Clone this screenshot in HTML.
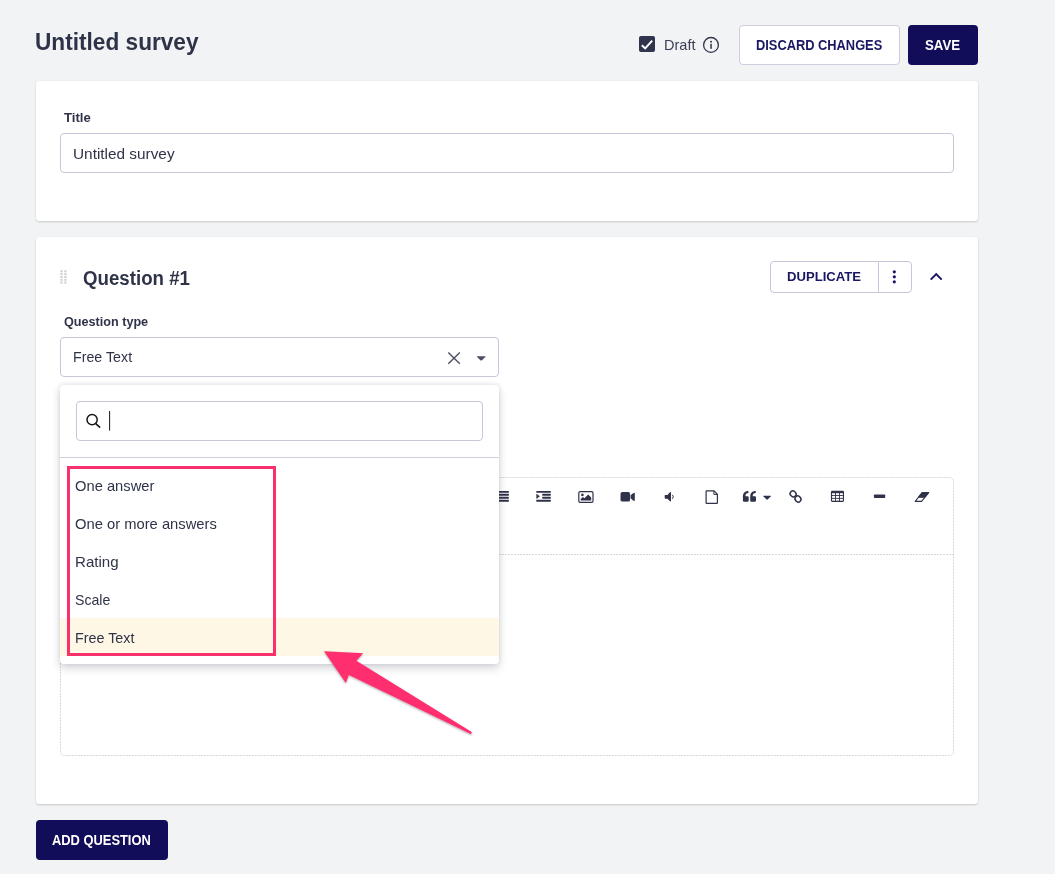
<!DOCTYPE html>
<html><head><meta charset="utf-8"><title>Untitled survey</title>
<style>
*{box-sizing:border-box;margin:0;padding:0}
html,body{width:1055px;height:874px;overflow:hidden;background:#f1f3f5;font-family:"Liberation Sans",sans-serif;color:#2f3348}
.abs{position:absolute}
.card{position:absolute;background:#fff;border-radius:3px;box-shadow:0 1px 2px rgba(0,0,0,.17),0 0 1px rgba(0,0,0,.08)}
.t{position:absolute;white-space:nowrap;line-height:20px;transform-origin:0 50%}
.btn{position:absolute;border-radius:4px}
.dark{background:#120d59}
.light{background:#fff;border:1px solid #cdcedd}
.inp{position:absolute;border:1px solid #c6c8d9;border-radius:4px;background:#fff}
svg{position:absolute;left:0;top:0;overflow:visible}
</style></head><body>

<!-- header buttons -->
<div class="btn light" style="left:739px;top:25px;width:161px;height:40px"></div>
<div class="btn dark" style="left:908px;top:25px;width:70px;height:40px"></div>

<!-- card 1 -->
<div class="card" style="left:36px;top:81px;width:942px;height:140px"></div>
<div class="inp" style="left:60px;top:133px;width:894px;height:40px"></div>

<!-- card 2 -->
<div class="card" style="left:36px;top:237px;width:942px;height:567px"></div>
<div class="abs" style="left:770px;top:261px;width:142px;height:32px;border:1px solid #c6c8d9;border-radius:4px;background:#fff"></div>
<div class="abs" style="left:878px;top:262px;width:1px;height:30px;background:#c6c8d9"></div>
<div class="inp" style="left:60px;top:337px;width:439px;height:40px"></div>

<!-- editor -->
<svg width="1055" height="874" viewBox="0 0 1055 874"><rect x="60.5" y="477.5" width="893" height="278" rx="4" fill="none" stroke="#d5d7dc" stroke-width="1" stroke-dasharray="2 1"/><path d="M61 554.5 H953" stroke="#d5d7dc" stroke-width="1" stroke-dasharray="2 1"/></svg>

<div class="btn dark" style="left:36px;top:820px;width:132px;height:40px"></div>

<div class="t" style="left:34.93px;top:31.79px;font-size:23.4px;font-weight:bold;color:#2f3348;transform:scaleX(0.9679)">Untitled survey</div>
<div class="t" style="left:664.40px;top:34.70px;font-size:15px;color:#3a3e55;transform:scaleX(0.9697)">Draft</div>
<div class="t" style="left:756.30px;top:35.18px;font-size:14.5px;font-weight:bold;color:#1a1763;transform:scaleX(0.8853)">DISCARD CHANGES</div>
<div class="t" style="left:924.50px;top:35.18px;font-size:14.5px;font-weight:bold;color:#ffffff;transform:scaleX(0.9128)">SAVE</div>
<div class="t" style="left:64.00px;top:107.53px;font-size:13.2px;font-weight:bold;color:#2f3348;transform:scaleX(0.9963)">Title</div>
<div class="t" style="left:72.50px;top:143.70px;font-size:15px;color:#2f3348;transform:scaleX(1.0240)">Untitled survey</div>
<div class="t" style="left:83.30px;top:268.11px;font-size:19.6px;font-weight:bold;color:#2f3348;transform:scaleX(0.9536)">Question #1</div>
<div class="t" style="left:787.00px;top:267.16px;font-size:13.4px;font-weight:bold;color:#1a1763;transform:scaleX(0.9789)">DUPLICATE</div>
<div class="t" style="left:63.60px;top:311.53px;font-size:13.2px;font-weight:bold;color:#2f3348;transform:scaleX(0.9568)">Question type</div>
<div class="t" style="left:72.50px;top:346.70px;font-size:15px;color:#2f3348;transform:scaleX(0.9492)">Free Text</div>
<div class="t" style="left:52.40px;top:829.78px;font-size:14.5px;font-weight:bold;color:#ffffff;transform:scaleX(0.8883)">ADD QUESTION</div>

<!-- base icons -->
<svg width="1055" height="874" viewBox="0 0 1055 874">
<!-- checkbox -->
<rect x="639" y="36" width="16" height="16" rx="2" fill="#30344c"/>
<path d="M641.8 45.2 L645.2 48.4 L652.2 40.6" fill="none" stroke="#fff" stroke-width="2"/>
<!-- info -->
<circle cx="711" cy="44.9" r="7.4" fill="none" stroke="#30344c" stroke-width="1.3"/>
<rect x="710.3" y="43.8" width="1.5" height="5" fill="#30344c"/>
<circle cx="711.05" cy="41.7" r="0.95" fill="#30344c"/>
<!-- drag handle -->
<g fill="#cfd1d8"><rect x="60.4" y="270.20" width="2.2" height="2.1"/><rect x="64.3" y="270.20" width="2.2" height="2.1"/><rect x="60.4" y="273.05" width="2.2" height="2.1"/><rect x="64.3" y="273.05" width="2.2" height="2.1"/><rect x="60.4" y="275.90" width="2.2" height="2.1"/><rect x="64.3" y="275.90" width="2.2" height="2.1"/><rect x="60.4" y="278.75" width="2.2" height="2.1"/><rect x="64.3" y="278.75" width="2.2" height="2.1"/><rect x="60.4" y="281.60" width="2.2" height="2.1"/><rect x="64.3" y="281.60" width="2.2" height="2.1"/></g>
<!-- kebab -->
<g fill="#1a1763"><circle cx="894.3" cy="271.8" r="1.6"/><circle cx="894.3" cy="276.8" r="1.6"/><circle cx="894.3" cy="281.8" r="1.6"/></g>
<!-- chevron -->
<path d="M930.7 279.6 L936.2 274.1 L941.7 279.6" fill="none" stroke="#1a1763" stroke-width="2"/>
<!-- select X and caret -->
<path d="M448.3 352.5 L459.8 363.8 M459.8 352.5 L448.3 363.8" fill="none" stroke="#4a4d63" stroke-width="1.4"/>
<path d="M477.2 356.2 H485.2 Q485.8 356.4 485.3 357 L481.7 360.4 Q481.2 360.7 480.7 360.4 L477.1 357 Q476.6 356.4 477.2 356.2Z" fill="#4a4d63"/>
<!-- toolbar icons -->
<g fill="#2f3249">
<!-- justify -->
<rect x="495" y="490.9" width="13.9" height="1.9" rx=".4"/><rect x="495" y="493.85" width="13.9" height="1.9" rx=".4"/><rect x="495" y="496.8" width="13.9" height="1.9" rx=".4"/><rect x="495" y="499.75" width="13.9" height="1.9" rx=".4"/>
<!-- indent -->
<rect x="536.3" y="490.9" width="14.5" height="1.9" rx=".4"/><rect x="542.2" y="493.85" width="8.6" height="1.9" rx=".4"/><rect x="542.2" y="496.8" width="8.6" height="1.9" rx=".4"/><rect x="536.3" y="499.75" width="14.5" height="1.9" rx=".4"/>
<path d="M536.4 493.7 L539.9 496.3 L536.4 498.9Z"/>
<!-- image -->
<rect x="578.8" y="491.7" width="14.2" height="10.6" rx="1.4" fill="none" stroke="#2f3249" stroke-width="1.2"/>
<circle cx="582.4" cy="494.9" r="1.3"/>
<path d="M580.7 500.5 V498.9 L582.9 496.9 L584.4 498.2 L588.2 494.5 L591.2 497.4 V500.5Z"/>
<!-- video -->
<rect x="620.5" y="492" width="9.6" height="9.6" rx="1.9"/>
<path d="M630.6 495.3 L633.5 492.9 Q634.7 492.3 634.8 493.6 V500 Q634.7 501.3 633.5 500.7 L630.6 498.3Z"/>
<!-- volume -->
<path d="M665.3 494.9 H667.4 L670 492.3 Q670.9 491.7 671 492.8 V500.8 Q670.9 501.9 670 501.3 L667.4 498.7 H665.3 Q664.7 498.7 664.7 498.1 V495.5 Q664.7 494.9 665.3 494.9Z"/>
<path d="M672.7 495.2 Q674.2 496.8 672.7 498.4" fill="none" stroke="#2f3249" stroke-width="1" stroke-linecap="round"/>
<!-- file -->
<path d="M706.7 490.8 H714 L717.4 494.3 V502.8 Q717.4 503.4 716.8 503.4 H706.7 Q706.1 503.4 706.1 502.8 V491.4 Q706.1 490.8 706.7 490.8Z" fill="none" stroke="#2f3249" stroke-width="1.2"/>
<path d="M713.9 490.9 V494.4 H717.3" fill="none" stroke="#2f3249" stroke-width="1"/>
<!-- quote -->
<path d="M748.4 490.9 C744.9 490.9 742.9 493 742.9 496.6 V500.6 Q742.9 501.8 744.1 501.8 H747.5 Q748.7 501.8 748.7 500.6 V497.4 Q748.7 496.2 747.5 496.2 H745.4 C745.4 494.2 746.5 493.1 748.4 493.1Z"/>
<path d="M755.7 490.9 C752.2 490.9 750.2 493 750.2 496.6 V500.6 Q750.2 501.8 751.4 501.8 H754.8 Q756.0 501.8 756.0 500.6 V497.4 Q756.0 496.2 754.8 496.2 H752.7 C752.7 494.2 753.8 493.1 755.7 493.1Z"/>
<path d="M763.6 495.8 H770.6 Q771.2 496 770.7 496.6 L767.6 499.6 Q767.1 499.9 766.6 499.6 L763.5 496.6 Q763 496 763.6 495.8Z"/>
<!-- link -->
<g fill="none" stroke="#2f3249" stroke-width="1.45">
<rect x="-3.1" y="-2.7" width="6.2" height="5.4" rx="2.7" transform="translate(793.1 493.9) rotate(45)"/>
<rect x="-3.1" y="-2.7" width="6.2" height="5.4" rx="2.7" transform="translate(798 499) rotate(45)"/>
</g>
<!-- table -->
<rect x="830.9" y="490.8" width="13.1" height="11.1" rx="1.3"/>
<g fill="#fff">
<rect x="832.1" y="493.2" width="3" height="1.9"/><rect x="836" y="493.2" width="3" height="1.9"/><rect x="839.9" y="493.2" width="3" height="1.9"/>
<rect x="832.1" y="496" width="3" height="1.9"/><rect x="836" y="496" width="3" height="1.9"/><rect x="839.9" y="496" width="3" height="1.9"/>
<rect x="832.1" y="498.8" width="3" height="1.9"/><rect x="836" y="498.8" width="3" height="1.9"/><rect x="839.9" y="498.8" width="3" height="1.9"/>
</g>
<!-- minus -->
<rect x="873.9" y="494.5" width="11.3" height="3.5" rx=".8"/>
<!-- eraser -->
<path d="M922.3 492.5 H928.7 L921.6 501.4 H915.2Z" fill="#fff" stroke="#2f3249" stroke-width="1.1" stroke-linejoin="round"/>
<path d="M922.3 492.5 H928.7 L924.9 497.2 H918.5Z" stroke="#2f3249" stroke-width="1.1" stroke-linejoin="round"/>
</g>

</svg>

<!-- dropdown -->
<div class="abs" style="left:60px;top:385px;width:439px;height:279px;background:#fff;border-radius:4px;box-shadow:0 4px 8px rgba(25,30,50,.2),0 -1px 4px rgba(25,30,50,.09)"></div>
<div class="inp" style="left:76px;top:401px;width:407px;height:40px"></div>
<div class="abs" style="left:60px;top:457px;width:439px;height:1px;background:#cfd0dc"></div>
<div class="abs" style="left:60px;top:618px;width:439px;height:38px;background:#fff7e6"></div>
<div class="t" style="left:75.40px;top:475.80px;font-size:15px;color:#2f3348;transform:scaleX(0.9815)">One answer</div>
<div class="t" style="left:75.40px;top:513.80px;font-size:15px;color:#2f3348;transform:scaleX(0.9833)">One or more answers</div>
<div class="t" style="left:75.40px;top:551.80px;font-size:15px;color:#2f3348;transform:scaleX(1.0070)">Rating</div>
<div class="t" style="left:75.40px;top:589.70px;font-size:15px;color:#2f3348;transform:scaleX(0.9421)">Scale</div>
<div class="t" style="left:75.40px;top:627.70px;font-size:15px;color:#2f3348;transform:scaleX(0.9540)">Free Text</div>
<svg width="1055" height="874" viewBox="0 0 1055 874">
<!-- search -->
<circle cx="92.1" cy="419.7" r="5.1" fill="none" stroke="#15161c" stroke-width="1.5"/>
<path d="M95.8 423.6 L99.6 427.2" stroke="#15161c" stroke-width="1.6" stroke-linecap="round"/>
<rect x="109.1" y="411" width="1" height="19.6" fill="#15161c"/>
<!-- annotation rect -->
<rect x="68.5" y="467.5" width="206" height="187" fill="none" stroke="#f8306c" stroke-width="3"/>
<!-- arrow -->
<g filter="url(#ds)">
<path d="M324 651.3 L363.2 653.3 L356.4 660.8 L471.7 732.1 L471.2 734.2 L348.9 675 L345.8 683Z" fill="#ff2e6e"/>
</g>
<defs><filter id="ds" x="-10%" y="-10%" width="120%" height="130%"><feDropShadow dx="0" dy="1" stdDeviation="0.8" flood-color="#000" flood-opacity=".35"/></filter></defs>

</svg>
</body></html>
